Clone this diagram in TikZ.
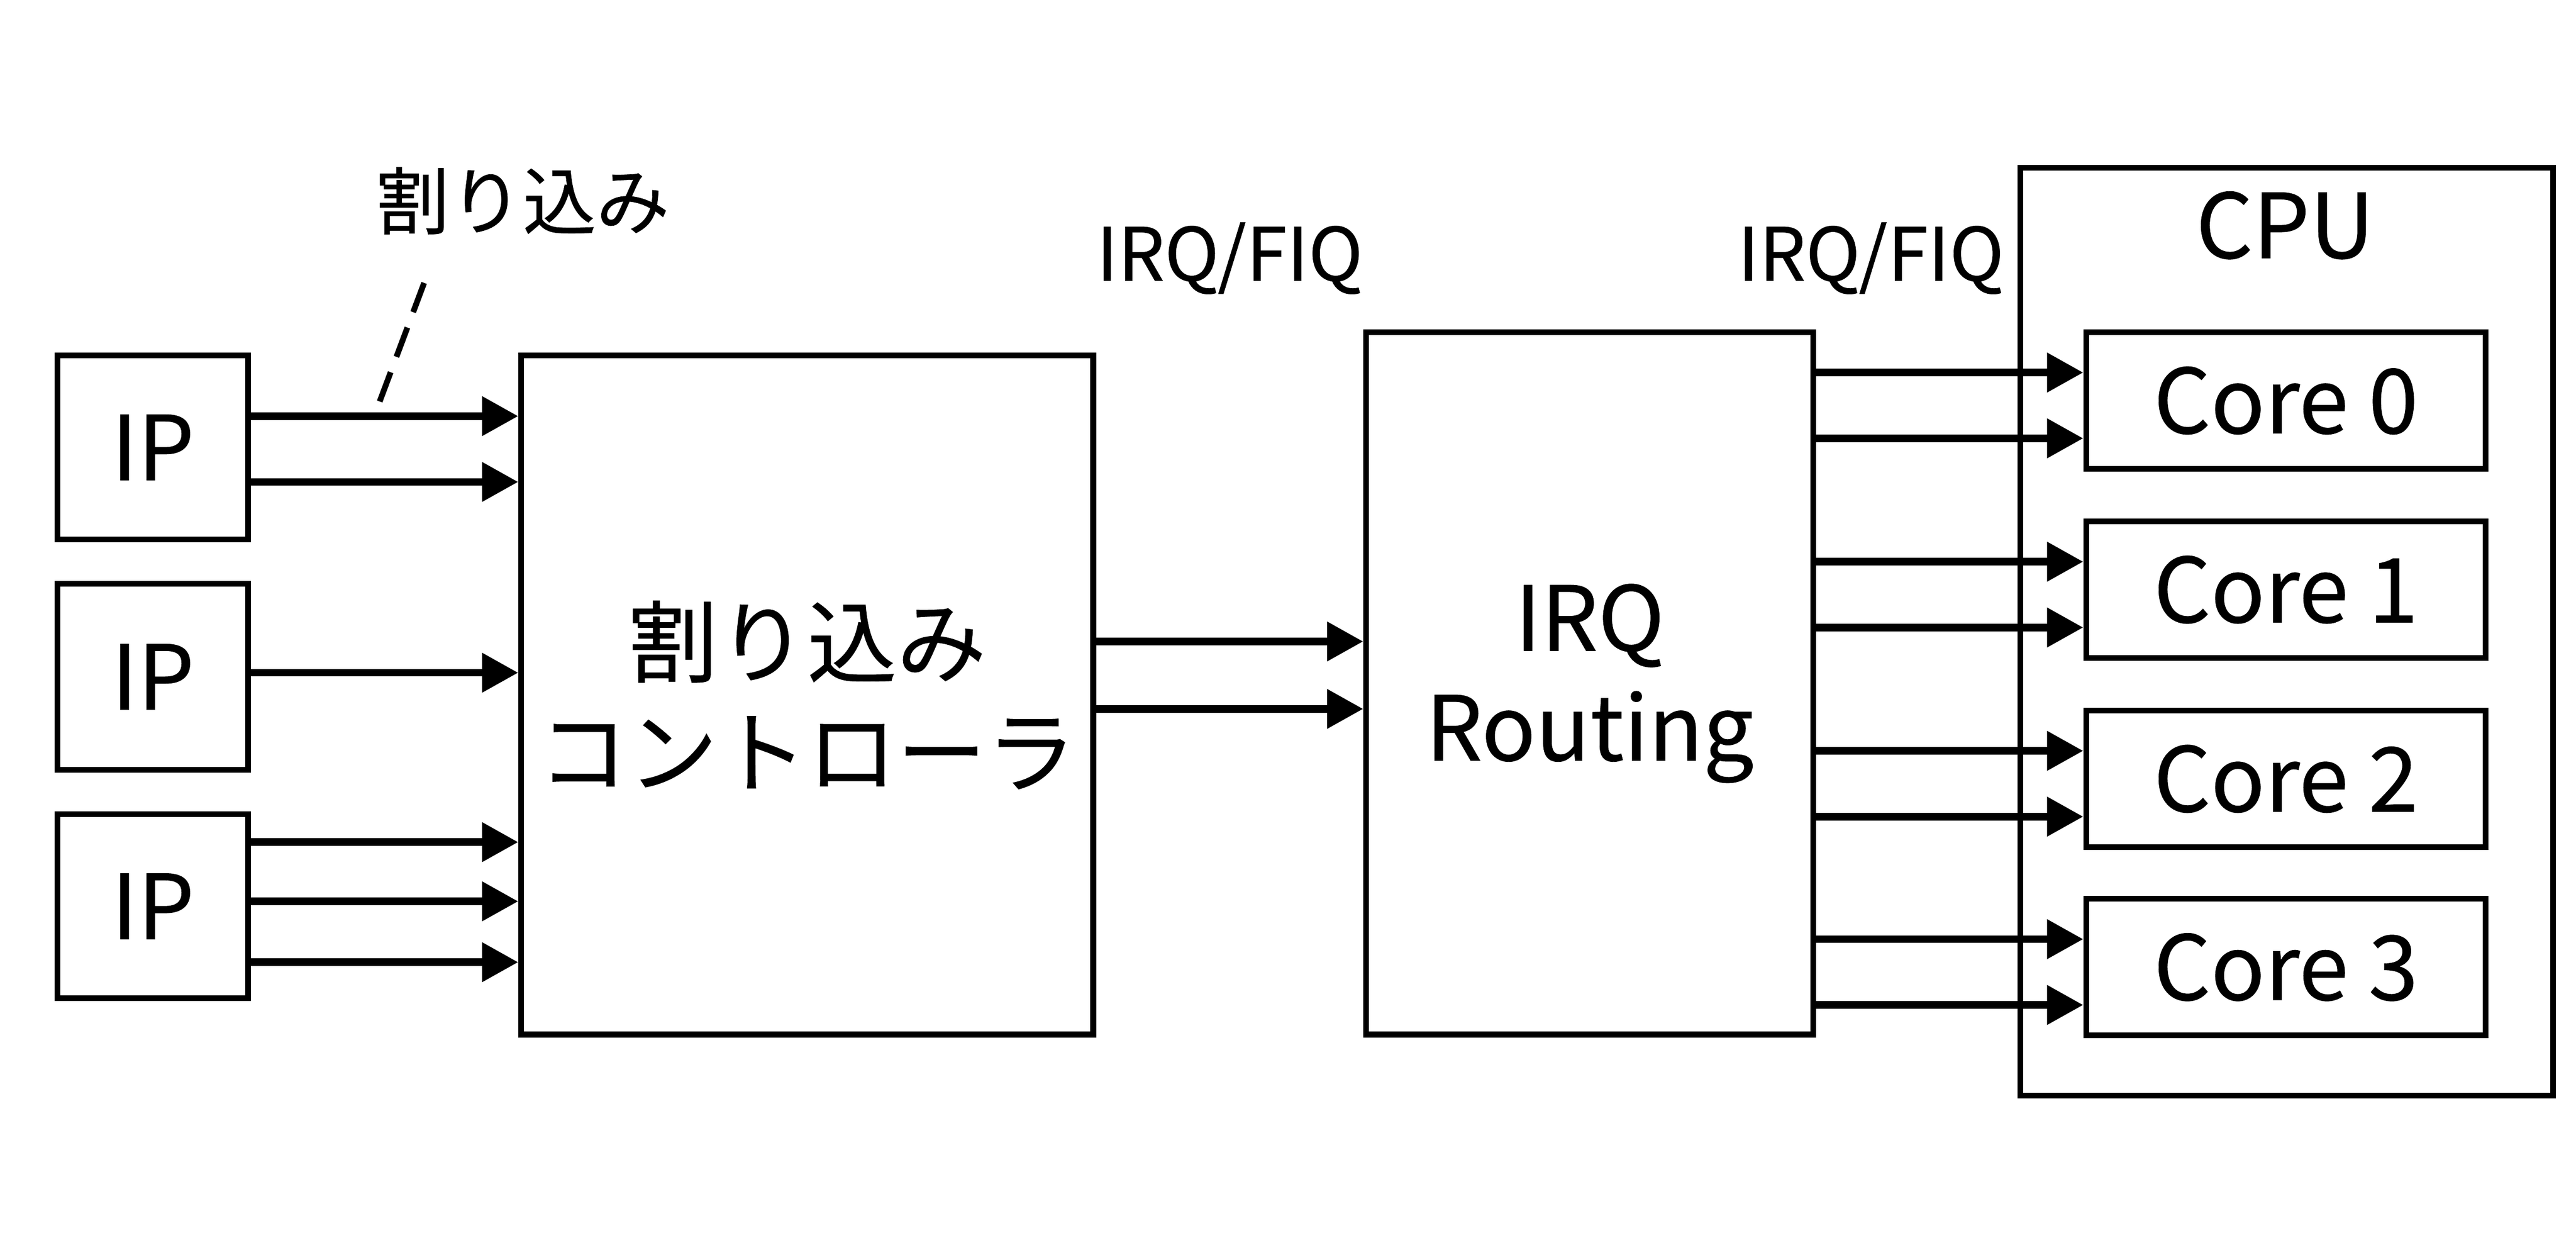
\documentclass[tikz,border=0pt]{standalone}
\usepackage{fontspec}
\setmainfont{Noto Sans CJK JP}[FakeBold=0.5]
\usetikzlibrary{arrows.meta}
\begin{document}
\begin{tikzpicture}[x=0.1mm,y=-0.1mm,
	box/.style={draw,line width=1pt,inner sep=0pt,align=center,font=\fontsize{15.5}{19}\selectfont},
	arr/.style={-{Triangle[length=2.2mm,width=2.3mm]},line width=1.3pt},
	lbl/.style={font=\fontsize{12.7}{15}\selectfont}]
		\useasboundingbox (0,0) rectangle (1567,759.8);
		
		\node[box,minimum width=11.6mm,minimum height=11.2mm] at (93,272) (ip1) {IP};
		\node[box,minimum width=11.6mm,minimum height=11.3mm] at (93,411.5) (ip2) {IP};
		\node[box,minimum width=11.6mm,minimum height=11.2mm] at (93,551) (ip3) {IP};
		
		\node[box,minimum width=34.8mm,minimum height=41.3mm] at (491,422.5) (ctrl) {割り込み\\コントローラ};
		\node[box,minimum width=27.2mm,minimum height=42.7mm] at (967,415.5) (route) {IRQ\\Routing};
		
		\node[box,minimum width=32.4mm,minimum height=56.4mm] at (1391,384) (cpu) {};
		\node[box,draw=none] at (1390,137) (cpulbl) {CPU};
		\foreach \c/\y in {0/243.5,1/358.5,2/473.5,3/588}
			\node[box,minimum width=24.3mm,minimum height=8.3mm] at (1390.5,\y) (core\c) {Core \c};
		
		\node[lbl] at (318,122) (irq) {割り込み};
		\node[lbl] at (748,157) (fiq1) {IRQ/FIQ};
		\node[lbl] at (1138,157) (fiq2) {IRQ/FIQ};
		
		\draw[arr] ([yshift=1.9mm]ip1.east) -- ([yshift=1.9mm]ip1.east -| ctrl.west);
		\draw[arr] ([yshift=-2.1mm]ip1.east) -- ([yshift=-2.1mm]ip1.east -| ctrl.west);
		\draw[arr] ([yshift=0.25mm]ip2.east) -- ([yshift=0.25mm]ip2.east -| ctrl.west);
		\foreach \s in {3.9mm,0.3mm,-3.4mm}
			\draw[arr] ([yshift=\s]ip3.east) -- ([yshift=\s]ip3.east -| ctrl.west);
		
		\draw[arr] ([yshift=3.25mm]ctrl.east) -- ([yshift=3.25mm]ctrl.east -| route.west);
		\draw[arr] ([yshift=-0.85mm]ctrl.east) -- ([yshift=-0.85mm]ctrl.east -| route.west);
		
		\foreach \c in {0,1,2,3}{
			\draw[arr] ([yshift=1.7mm]core\c.west -| route.east) -- ([yshift=1.7mm]core\c.west);
			\draw[arr] ([yshift=-2.3mm]core\c.west -| route.east) -- ([yshift=-2.3mm]core\c.west);
		}
		
		\coordinate (dtop) at (258,172);
		\coordinate (dend) at (228,252);
		\draw[line width=1pt,dash pattern=on 1.9mm off 1mm] (dtop) -- (dend);
	\end{tikzpicture}
\end{document}
